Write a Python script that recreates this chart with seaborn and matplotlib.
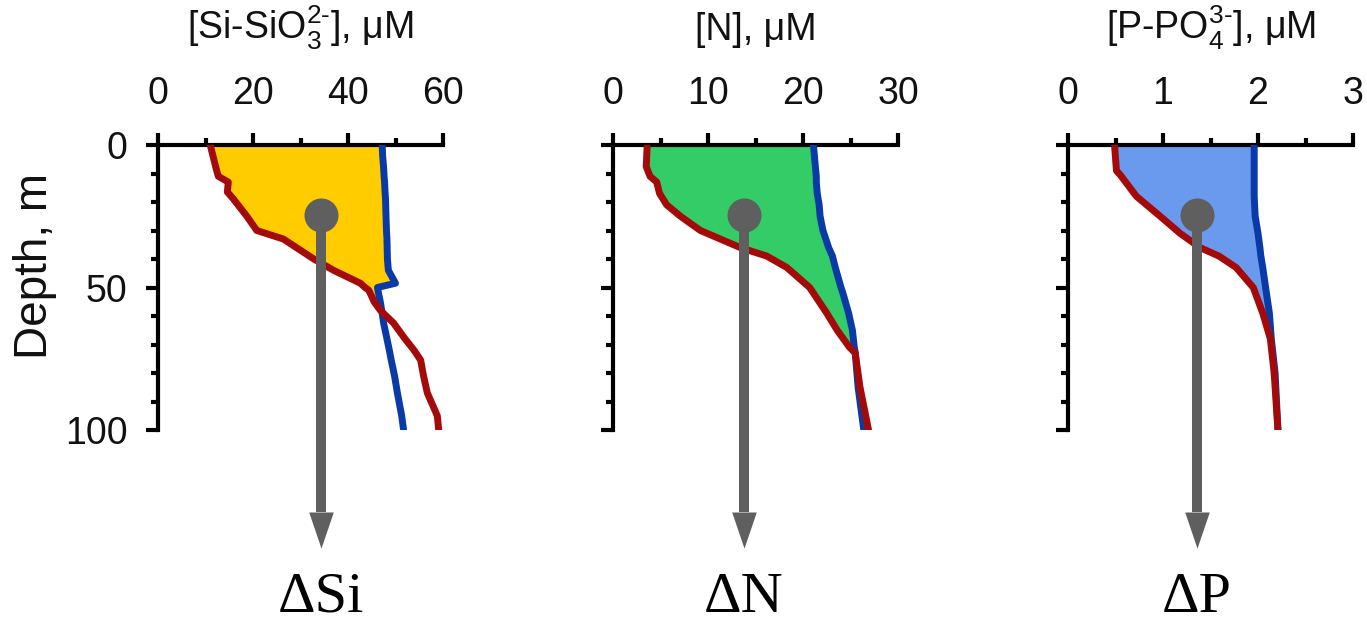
import numpy as np
import pandas as pd
import matplotlib
matplotlib.use("Agg")
import matplotlib.pyplot as plt
from matplotlib.ticker import MultipleLocator
from matplotlib.transforms import blended_transform_factory
import seaborn as sns

# ---- profile data (depth in m, concentrations in µM) ----
si_depth = [0, 4, 8, 11, 13, 16.5, 19, 25, 30, 33, 40, 44, 48.5, 50, 51, 55, 58, 62.5, 68, 72, 75.5, 81, 87, 95, 100]
si_surface = [11.0, 11.6, 12.2, 12.7, 14.8, 14.6, 15.9, 18.7, 20.8, 26.4, 32.8, 37.0, 42.6, 43.6, 44.4, 45.5,
              46.8, 49.6, 52.0, 53.9, 55.3, 55.9, 56.7, 58.8, 59.1]
si_deep = [47.2, 47.3, 47.5, 47.6, 47.7, 47.8, 47.9, 48.0, 48.1, 48.2, 48.3, 48.5, 50.0, 46.2, 46.3, 46.8,
           47.1, 47.5, 48.2, 48.7, 49.1, 49.8, 50.4, 51.3, 51.7]

n_depth = [0, 7.6, 11, 13, 17, 21, 25, 30, 33, 36, 39, 43, 50, 52, 59, 65, 71, 73, 85, 100]
n_surface = [3.6, 3.5, 3.9, 4.6, 4.9, 5.65, 7.1, 9.2, 11.3, 13.4, 16.2, 18.3, 20.7, 21.1, 22.5, 23.6,
             24.9, 25.5, 26.0, 26.9]
n_deep = [21.1, 21.3, 21.4, 21.4, 21.5, 21.7, 21.8, 22.1, 22.4, 22.7, 23.1, 23.4, 24.0, 24.2, 24.8, 25.2,
          25.4, 25.5, 25.8, 26.4]

p_depth = [0, 9, 10.5, 18, 25, 31, 36, 39, 43, 50, 59, 68, 71, 80, 100]
p_surface = [0.49, 0.51, 0.55, 0.72, 0.97, 1.18, 1.39, 1.59, 1.77, 1.95, 2.05, 2.13, 2.14, 2.17, 2.21]
p_deep = [1.96, 1.96, 1.96, 1.96, 1.97, 2.0, 2.02, 2.03, 2.05, 2.08, 2.12, 2.14, 2.15, 2.18, 2.21]

titles = ["[Si-SiO$_3^{2\\text{-}}$], μM", "[N], μM", "[P-PO$_4^{3\\text{-}}$], μM"]
delta_labels = ["ΔSi", "ΔN", "ΔP"]
x_max = [60, 30, 3]
x_major = [20, 10, 1]
marker_x = [34.4, 13.8, 1.36]
fill_colors = ["#FFCC00", "#33CC66", "#6A9AEE"]

RED = "#A50A0A"
BLUE = "#0A3AA6"
GREY = "#5F5F5F"

sns.set_theme(style="white")
plt.rcParams["font.family"] = ["Liberation Sans", "DejaVu Sans"]
plt.rcParams["mathtext.fontset"] = "custom"
plt.rcParams["mathtext.rm"] = "Liberation Sans"
plt.rcParams["mathtext.it"] = "Liberation Sans:italic"
plt.rcParams["mathtext.bf"] = "Liberation Sans:bold"

W, H = 1367, 623
fig = plt.figure(figsize=(W / 100, H / 100), dpi=100)
fig.patch.set_facecolor("white")

left_px = [158, 613, 1068]
ax_w, ax_top, ax_bot = 285, 145, 430

profiles = [(si_depth, si_surface, si_deep), (n_depth, n_surface, n_deep), (p_depth, p_surface, p_deep)]

for i, (depth, surf, deep) in enumerate(profiles):
    ax = fig.add_axes([left_px[i] / W, 1 - ax_bot / H, ax_w / W, (ax_bot - ax_top) / H])
    ax.set_facecolor("none")
    d = np.asarray(depth, float)
    s = np.asarray(surf, float)
    dp = np.asarray(deep, float)

    ax.fill_betweenx(d, s, dp, where=dp >= s, interpolate=True, color=fill_colors[i], lw=0, zorder=1)
    df = pd.DataFrame({"depth": np.r_[d, d],
                       "conc": np.r_[dp, s],
                       "profile": ["deep"] * len(d) + ["surface"] * len(d)})
    sns.lineplot(data=df, x="conc", y="depth", hue="profile", palette={"deep": BLUE, "surface": RED},
                 sort=False, estimator=None, orient="y", lw=5, legend=False, ax=ax, zorder=3)
    for ln in ax.lines:
        ln.set_solid_capstyle("round")
        ln.set_solid_joinstyle("round")

    ax.set_xlim(0, x_max[i])
    ax.set_ylim(100, 0)
    ax.set_xlabel("")
    ax.set_ylabel("")
    ax.xaxis.tick_top()
    ax.xaxis.set_major_locator(MultipleLocator(x_major[i]))
    ax.xaxis.set_minor_locator(MultipleLocator(x_major[i] / 2))
    ax.yaxis.set_major_locator(MultipleLocator(50))
    ax.yaxis.set_minor_locator(MultipleLocator(10))
    for side in ["right", "bottom"]:
        ax.spines[side].set_visible(False)
    for side in ["left", "top"]:
        ax.spines[side].set_linewidth(3)
        ax.spines[side].set_color("black")
        ax.spines[side].set_capstyle("projecting")
    ax.tick_params(which="major", direction="out", length=9, width=3, color="black",
                   labelsize=27, labelcolor="#111111")
    ax.tick_params(axis="x", which="major", pad=15)
    ax.tick_params(axis="y", which="major", pad=13)
    ax.tick_params(which="minor", direction="out", length=5, width=3, color="black")
    ax.tick_params(axis="x", which="both", top=True, bottom=False)
    ax.tick_params(axis="y", which="both", left=True, right=False)
    if i > 0:
        ax.tick_params(axis="y", labelleft=False)

    ax.text(0.5, 1 + (ax_top - 40) / (ax_bot - ax_top), titles[i], transform=ax.transAxes,
            ha="center", va="baseline", fontsize=27, color="#111111")

    # grey pointer: dot inside the shaded area, shaft and arrow head below the panel
    mx = marker_x[i]
    y_dot = 24.6
    y_head = (512 - ax_top) / 2.85
    y_tip = (548 - ax_top) / 2.85
    ax.plot([mx, mx], [y_dot, y_head], color=GREY, lw=7.2, solid_capstyle="butt",
            clip_on=False, zorder=5)
    ax.plot([mx], [y_dot], marker="o", ms=24.5, color=GREY, mec="none", clip_on=False, zorder=6)
    head = [(-0.34, 0.0), (0.34, 0.0), (0.0, -1.0)]
    ax.plot([mx], [y_head], marker=head, ms=52, color=GREY, mec="none", clip_on=False, zorder=6)

    tr = blended_transform_factory(ax.transData, fig.transFigure)
    ax.text(mx, 1 - 612 / H, delta_labels[i], transform=tr, ha="center", va="baseline",
            fontsize=42, family=["Liberation Serif", "DejaVu Serif"], color="black")

fig.text(35 / W, 1 - 266 / H, "Depth, m", rotation=90, ha="center", va="center",
         fontsize=33, color="#111111")

fig.savefig("out.png", dpi=100, facecolor="white")
